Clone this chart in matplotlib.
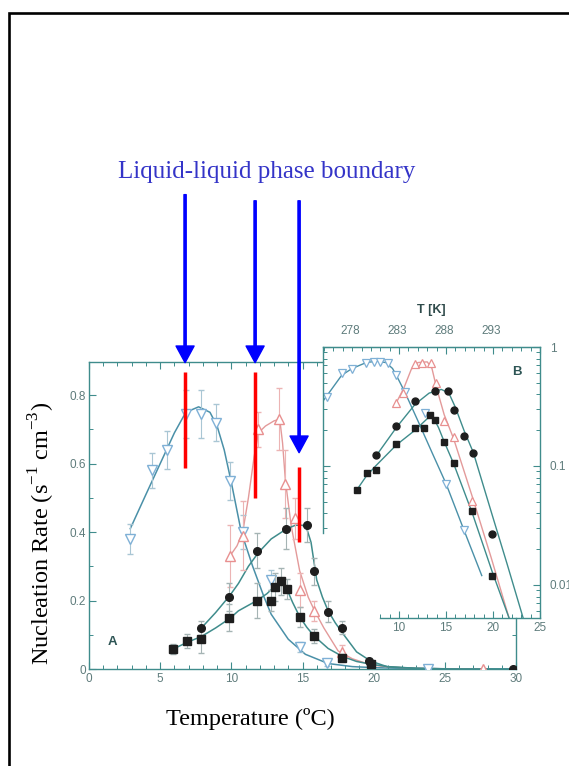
import matplotlib
matplotlib.use("Agg")
import matplotlib.pyplot as plt
from matplotlib.patches import Rectangle
from matplotlib.ticker import MultipleLocator, LogLocator, FuncFormatter, NullFormatter

# ---- panel A (linear scale), measured points ----
a_down_t = [2.9, 4.4, 5.5, 6.8, 7.9, 8.9, 9.9, 10.8, 12.8, 14.8, 16.7, 23.8]
a_down_r = [0.38, 0.58, 0.64, 0.745, 0.745, 0.72, 0.55, 0.40, 0.26, 0.065, 0.018, 0.0]
a_down_e = [0.045, 0.05, 0.055, 0.07, 0.07, 0.055, 0.055, 0.05, 0.03, 0.015, 0.01, 0.0]

a_up_t = [9.9, 10.8, 11.85, 13.35, 13.8, 14.5, 14.8, 15.8, 17.8, 27.7]
a_up_r = [0.33, 0.39, 0.70, 0.73, 0.54, 0.44, 0.23, 0.17, 0.05, 0.0]
a_up_e = [0.09, 0.10, 0.05, 0.09, 0.10, 0.06, 0.05, 0.03, 0.02, 0.0]

a_circ_t = [7.9, 9.86, 11.8, 13.85, 15.3, 15.8, 16.8, 17.8, 19.7, 29.8]
a_circ_r = [0.12, 0.21, 0.346, 0.41, 0.42, 0.285, 0.168, 0.121, 0.023, 0.0]
a_circ_e = [0.02, 0.04, 0.05, 0.06, 0.05, 0.04, 0.03, 0.02, 0.01, 0.0]

a_sq_t = [5.9, 6.9, 7.9, 9.86, 11.8, 12.8, 13.05, 13.5, 13.9, 14.8, 15.8, 17.8, 19.8]
a_sq_r = [0.058, 0.082, 0.087, 0.15, 0.20, 0.20, 0.24, 0.256, 0.234, 0.152, 0.097, 0.033, 0.014]
a_sq_e = [0.015, 0.02, 0.04, 0.04, 0.05, 0.03, 0.04, 0.04, 0.03, 0.03, 0.02, 0.01, 0.01]

# ---- panel A fitted curves ----
fa_down_t = [2.9, 4.0, 5.0, 6.0, 6.8, 7.7, 8.5, 9.0, 9.5, 10.0, 10.7, 11.5, 12.3, 12.8, 14.0, 15.2, 16.8, 18.5, 20, 22, 24, 26, 30]
fa_down_r = [0.41, 0.51, 0.60, 0.69, 0.75, 0.766, 0.75, 0.71, 0.64, 0.545, 0.40, 0.30, 0.21, 0.16, 0.087, 0.043, 0.016, 0.007, 0.004, 0.002, 0.001, 0.0005, 0.0]

fa_up_t = [9.9, 10.4, 10.8, 11.2, 11.6, 11.9, 12.4, 13.0, 13.4, 13.6, 13.8, 14.2, 14.8, 15.4, 15.85, 16.5, 17.5, 18.5, 19.8, 21, 23, 25, 28]
fa_up_r = [0.33, 0.36, 0.40, 0.50, 0.62, 0.69, 0.71, 0.725, 0.73, 0.66, 0.55, 0.42, 0.287, 0.21, 0.17, 0.12, 0.053, 0.03, 0.012, 0.006, 0.002, 0.0008, 0.0]

fa_circ_t = [7.9, 8.9, 9.9, 10.5, 11.2, 11.9, 12.8, 13.9, 14.5, 15.0, 15.3, 15.6, 16.0, 16.4, 16.8, 17.3, 17.9, 18.8, 19.8, 21, 23, 25, 30]
fa_circ_r = [0.12, 0.165, 0.215, 0.25, 0.30, 0.34, 0.38, 0.41, 0.42, 0.42, 0.41, 0.37, 0.26, 0.21, 0.17, 0.135, 0.10, 0.05, 0.023, 0.006, 0.002, 0.0005, 0.0]

fa_sq_t = [5.9, 6.9, 7.9, 8.9, 9.9, 10.5, 11.8, 12.5, 13.0, 13.5, 13.9, 14.3, 14.8, 15.3, 15.8, 16.8, 17.8, 18.8, 19.8, 21, 23, 25]
fa_sq_r = [0.058, 0.078, 0.095, 0.12, 0.148, 0.17, 0.20, 0.22, 0.24, 0.257, 0.234, 0.195, 0.153, 0.122, 0.097, 0.06, 0.037, 0.022, 0.014, 0.007, 0.002, 0.0005]

# ---- panel B (log scale), measured points ----
b_down_t = [2.3, 3.9, 5.0, 6.5, 7.3, 8.0, 8.8, 9.7, 10.6, 12.8, 15.0, 16.9]
b_down_r = [0.378, 0.60, 0.65, 0.74, 0.75, 0.75, 0.73, 0.58, 0.42, 0.28, 0.071, 0.029]

b_up_t = [9.7, 10.45, 11.7, 12.4, 13.4, 13.9, 14.8, 15.8, 17.8]
b_up_r = [0.337, 0.41, 0.72, 0.74, 0.74, 0.50, 0.24, 0.175, 0.051]

b_circ_t = [7.5, 9.7, 11.7, 13.8, 15.2, 15.85, 16.9, 17.9, 19.9]
b_circ_r = [0.124, 0.217, 0.354, 0.43, 0.43, 0.296, 0.177, 0.128, 0.027]

b_sq_t = [5.55, 6.55, 7.54, 9.67, 11.7, 12.65, 13.3, 13.8, 14.8, 15.8, 17.8, 19.9]
b_sq_r = [0.063, 0.087, 0.093, 0.153, 0.207, 0.207, 0.268, 0.243, 0.16, 0.105, 0.042, 0.012]

# ---- panel B fitted curves ----
fb_down_t = [2.0, 3.9, 5.0, 6.5, 7.6, 8.6, 9.3, 9.7, 10.6, 12.0, 13.5, 15.0, 16.9, 18.8]
fb_down_r = [0.36, 0.58, 0.66, 0.74, 0.76, 0.74, 0.66, 0.58, 0.42, 0.24, 0.13, 0.071, 0.029, 0.012]

fb_up_t = [9.7, 10.5, 11.3, 12.0, 13.0, 13.5, 14.0, 14.8, 15.8, 17.8, 19.8, 21.7]
fb_up_r = [0.34, 0.45, 0.65, 0.74, 0.75, 0.66, 0.45, 0.27, 0.17, 0.055, 0.017, 0.0053]

fb_circ_t = [7.5, 9.7, 11.7, 13.2, 14.5, 15.3, 16.0, 16.9, 17.9, 19.9, 21.5, 23.2]
fb_circ_r = [0.12, 0.21, 0.33, 0.41, 0.44, 0.41, 0.31, 0.20, 0.13, 0.039, 0.015, 0.0053]

fb_sq_t = [5.5, 6.5, 7.5, 9.7, 11.7, 13.0, 13.6, 14.2, 14.8, 15.8, 17.8, 19.9, 21.7]
fb_sq_r = [0.063, 0.082, 0.10, 0.15, 0.20, 0.25, 0.26, 0.21, 0.16, 0.105, 0.040, 0.013, 0.0053]

kelvin_ticks = [278, 283, 288, 293]

# phase boundary markers (temperature, low, high) and arrow tips
boundary_bars = [(6.75, 0.588, 0.868), (11.67, 0.50, 0.868), (14.76, 0.37, 0.59)]
arrow_tips = [(6.75, 1.386, 0.895), (11.67, 1.368, 0.895), (14.76, 1.368, 0.632)]

W, H = 569, 766
AX_C = "#3f8c8c"
TXT_C = "#5f7c7c"
DOWN_C = "#4a90a8"
DOWN_M = "#7fb0d6"
UP_C = "#e39a9a"
DARK = "#1e1e1e"

plt.rcParams["font.family"] = ["Liberation Sans", "DejaVu Sans"]

fig = plt.figure(figsize=(W / 100, H / 100), dpi=100)


def box(l, t, r, b):
    return [l / W, 1 - b / H, (r - l) / W, (b - t) / H]


# outer frame
fig.add_artist(Rectangle((9 / W, -0.05), 1.2, 1.05 - 13 / H, transform=fig.transFigure,
                         fill=False, ec="black", lw=1.9))

ax = fig.add_axes(box(89, 362, 516, 669))
ax.set_xlim(0, 30)
ax.set_ylim(0, 0.897)

ax.plot(fa_down_t, fa_down_r, color=DOWN_C, lw=1.1, zorder=2)
ax.plot(fa_up_t, fa_up_r, color=UP_C, lw=1.0, zorder=2)
ax.plot(fa_circ_t, fa_circ_r, color=AX_C, lw=1.1, zorder=2)
ax.plot(fa_sq_t, fa_sq_r, color=AX_C, lw=1.1, zorder=2)

ax.errorbar(a_down_t, a_down_r, yerr=a_down_e, fmt="v", ms=6.5, mfc="white", mec=DOWN_M,
            mew=1.0, ecolor="#a9c6d4", elinewidth=0.8, capsize=2.5, zorder=3)
ax.errorbar(a_up_t, a_up_r, yerr=a_up_e, fmt="^", ms=6.5, mfc="white", mec="#e89090",
            mew=1.0, ecolor="#ecb4b4", elinewidth=0.8, capsize=2.5, zorder=3)
ax.errorbar(a_circ_t, a_circ_r, yerr=a_circ_e, fmt="o", ms=5.5, mfc=DARK, mec=DARK,
            ecolor="#a5b4b4", elinewidth=0.8, capsize=2.5, zorder=4)
ax.errorbar(a_sq_t, a_sq_r, yerr=a_sq_e, fmt="s", ms=5.5, mfc=DARK, mec=DARK,
            ecolor="#a5b4b4", elinewidth=0.8, capsize=2.5, zorder=4)

ax.xaxis.set_major_locator(MultipleLocator(5))
ax.xaxis.set_minor_locator(MultipleLocator(1))
ax.yaxis.set_major_locator(MultipleLocator(0.2))
ax.yaxis.set_minor_locator(MultipleLocator(0.1))
ax.yaxis.set_major_formatter(FuncFormatter(lambda v, _: "0" if v == 0 else f"{v:.1f}"))
ax.tick_params(which="both", direction="in", top=True, right=True, color=AX_C,
               labelcolor=TXT_C, labelsize=8.5)
ax.tick_params(which="major", length=5, width=0.8)
ax.tick_params(which="minor", length=3, width=0.7)
ax.tick_params(axis="y", pad=2)
ax.tick_params(axis="x", pad=3)
for s in ax.spines.values():
    s.set_color(AX_C)
    s.set_linewidth(1.0)
ax.spines["top"].set_bounds(0, 16.45)
ax.spines["right"].set_bounds(0, 0.149)
ax.text(0.056, 0.088, "A", transform=ax.transAxes, fontsize=9.5, fontweight="bold",
        color="#2e5555", ha="center", va="center")

# boundary bars and arrows
for t, lo, hi in boundary_bars:
    ax.vlines(t, lo, hi, color="#ff0000", lw=2.5, zorder=6, clip_on=False)
for t, y0, y1 in arrow_tips:
    ax.annotate("", xy=(t, y1), xytext=(t, y0), annotation_clip=False, zorder=7,
                arrowprops=dict(facecolor="#0000ff", edgecolor="#0000ff", width=1.6,
                                headwidth=13, headlength=12, shrink=0))

# ---- inset B ----
bx = fig.add_axes(box(323, 347, 540, 618))
bx.patch.set_alpha(0)
bx.set_yscale("log")
bx.set_xlim(1.9, 25)
bx.set_ylim(0.00528, 1)

bx.plot(fb_down_t, fb_down_r, color=DOWN_C, lw=1.0)
bx.plot(fb_up_t, fb_up_r, color=UP_C, lw=1.0)
bx.plot(fb_circ_t, fb_circ_r, color=AX_C, lw=1.0)
bx.plot(fb_sq_t, fb_sq_r, color=AX_C, lw=1.0)
bx.plot(b_down_t, b_down_r, "v", ms=5.5, mfc="white", mec=DOWN_M, mew=0.9, ls="none")
bx.plot(b_up_t, b_up_r, "^", ms=5.5, mfc="white", mec="#e89090", mew=0.9, ls="none")
bx.plot(b_circ_t, b_circ_r, "o", ms=5, color=DARK, ls="none")
bx.plot(b_sq_t, b_sq_r, "s", ms=5, color=DARK, ls="none")

bx.xaxis.set_major_locator(MultipleLocator(5))
bx.xaxis.set_minor_locator(MultipleLocator(1))
bx.set_xticks([10, 15, 20, 25])
bx.yaxis.set_major_locator(LogLocator(base=10))
bx.yaxis.set_minor_locator(LogLocator(base=10, subs=range(2, 10)))
bx.yaxis.set_major_formatter(FuncFormatter(lambda v, _: f"{v:g}"))
bx.yaxis.set_minor_formatter(NullFormatter())
bx.tick_params(which="both", direction="in", top=True, right=True, left=True,
               labelleft=False, labelright=True, color=AX_C, labelcolor=TXT_C, labelsize=8.5)
bx.tick_params(which="major", length=5, width=0.8)
bx.tick_params(which="minor", length=3, width=0.7)
bx.tick_params(axis="y", pad=7)
bx.tick_params(axis="x", pad=3)
for s in bx.spines.values():
    s.set_color(AX_C)
    s.set_linewidth(1.0)
bx.spines["left"].set_bounds(0.0273, 1)
bx.spines["bottom"].set_bounds(7.97, 25)
bx.text(0.894, 0.908, "B", transform=bx.transAxes, fontsize=9.5, fontweight="bold",
        color="#2e5555", ha="center", va="center")

sec = bx.secondary_xaxis("top", functions=(lambda c: c + 273.15, lambda k: k - 273.15))
sec.set_xticks(kelvin_ticks)
sec.tick_params(direction="in", length=0, pad=7, labelcolor=TXT_C, labelsize=8.5)
sec.spines["top"].set_color(AX_C)
sec.set_xlabel("T [K]", fontsize=9, fontweight="bold", color="#2e4a4a", labelpad=9)


# drop the ticks that would fall on the hidden spine stretches
def hide_ticks(axis, keep, second=False):
    for getter, locs in ((axis.get_major_ticks, axis.get_majorticklocs()),
                         (axis.get_minor_ticks, axis.get_minorticklocs())):
        for tick, loc in zip(getter(len(locs)), locs):
            if not keep(loc):
                (tick.tick2line if second else tick.tick1line).set_visible(False)


hide_ticks(ax.xaxis, lambda v: v <= 16.45, second=True)
hide_ticks(ax.yaxis, lambda v: v <= 0.149, second=True)
hide_ticks(bx.yaxis, lambda v: v >= 0.0273)
hide_ticks(bx.xaxis, lambda v: v >= 7.97)

serif = ["Liberation Serif", "DejaVu Serif"]
plt.rcParams["mathtext.fontset"] = "custom"
plt.rcParams["mathtext.rm"] = "Liberation Serif"
fig.text(266.5 / W, 1 - 172 / H, "Liquid-liquid phase boundary", family=serif,
         fontsize=18, color="#3434c8", ha="center", va="center")
fig.text(250 / W, 1 - 719 / H, "Temperature (ºC)", family=serif, fontsize=17.5,
         color="black", ha="center", va="center")
fig.text(42 / W, 1 - 533 / H, r"Nucleation Rate (s$^{\mathregular{-1}}$ cm$^{\mathregular{-3}}$)",
         family=serif, fontsize=17.5, color="black", ha="center", va="center", rotation=90)

fig.savefig("out.png", dpi=100)
